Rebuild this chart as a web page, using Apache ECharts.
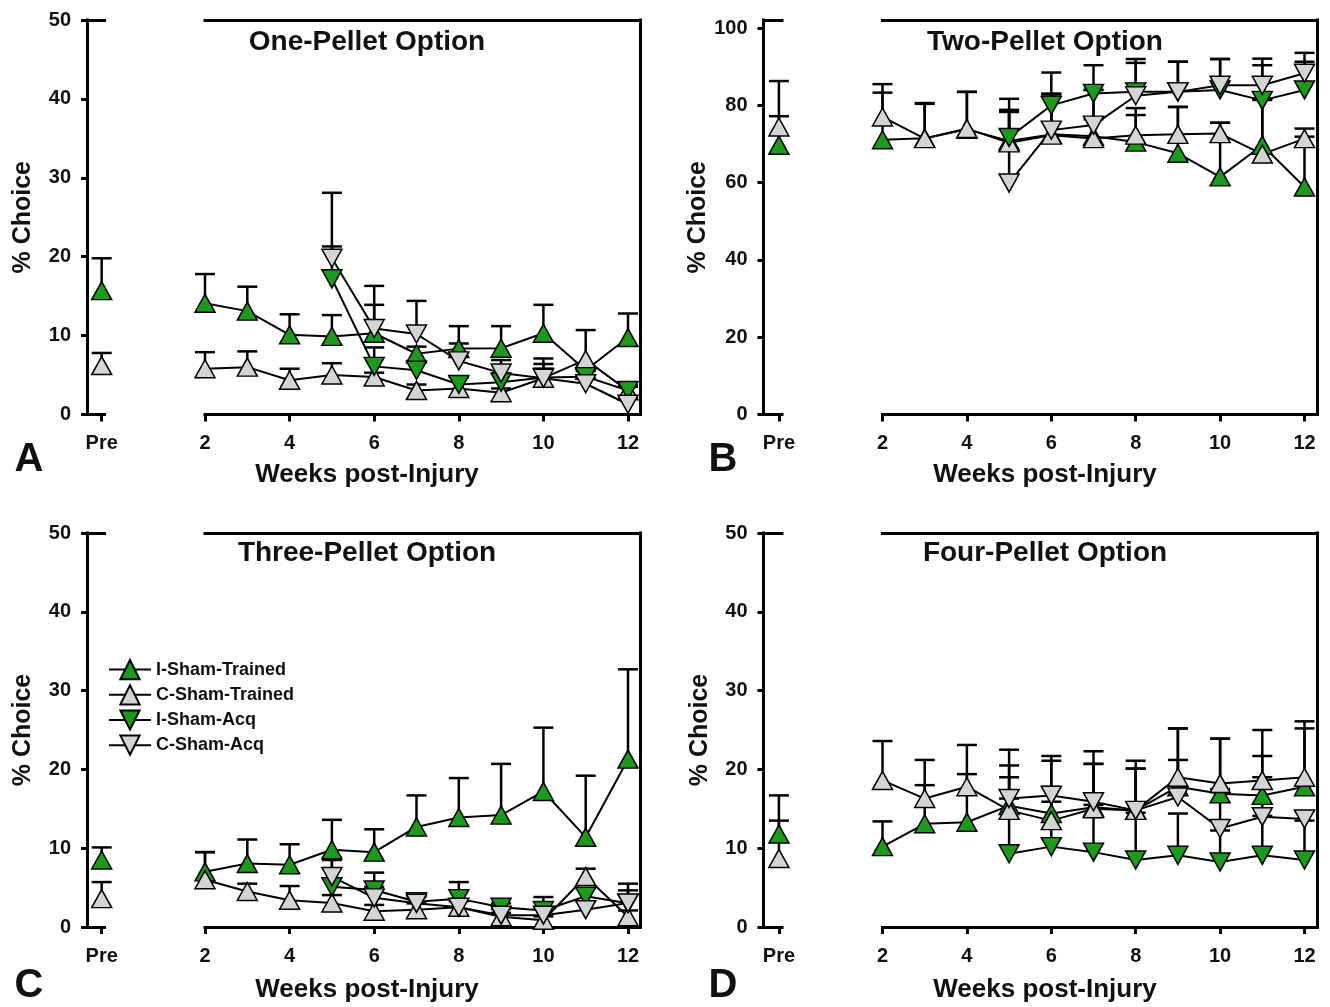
<!DOCTYPE html>
<html><head><meta charset="utf-8">
<script src="https://cdn.jsdelivr.net/npm/echarts@6/dist/echarts.min.js"></script>
<style>html,body{margin:0;padding:0;background:#fff}#c{width:1330px;height:1007px}</style>
</head><body><div id="c"></div>
<script>
// ---------------- DATA ----------------
const weeks = [2, 3, 4, 5, 6, 7, 8, 9, 10, 11, 12];
const acqWeeks = [5, 6, 7, 8, 9, 10, 11, 12];
const xTickWeeks = [2, 4, 6, 8, 10, 12];
const preLabel = 'Pre';
const yTicks50 = [0, 10, 20, 30, 40, 50];
const yTicks100 = [0, 20, 40, 60, 80, 100];
const seriesNames = ['I-Sham-Trained', 'C-Sham-Trained', 'I-Sham-Acq', 'C-Sham-Acq'];
const panelTitles = ['One-Pellet Option', 'Two-Pellet Option', 'Three-Pellet Option', 'Four-Pellet Option'];
const panelLetters = ['A', 'B', 'C', 'D'];
const xName = 'Weeks post-Injury';
const yName = '% Choice';

// Pre values: [I-Sham-Trained, C-Sham-Trained]
const onePre = [15.7, 6.2];
const onePreErr = [4.1, 1.6];
const oneIST = [14.1, 13.1, 10.1, 9.9, 10.3, 7.7, 8.35, 8.4, 10.3, 5.6, 9.75];
const oneISTErr = [3.7, 3.1, 2.6, 2.7, 3.6, 0.9, 2.85, 2.8, 3.6, 0.5, 3.05];
const oneCST = [5.8, 6.0, 4.35, 5.0, 4.75, 3.05, 3.3, 2.75, 4.6, 6.95, 3.0];
const oneCSTErr = [2.1, 2.0, 1.45, 1.5, 0.55, 0.75, 1.45, 0.55, 1.2, 3.75, 0.5];
const oneISA = [17.2, 6.1, 5.6, 3.8, 4.1, 4.7, 4.8, 3.05];
const oneISAErr = [4.1, 2.4, 1.2, 0.95, 1.1, 1.7, 0.9, 0.65];
const oneCSA = [19.8, 10.9, 10.2, 6.8, 5.25, 4.6, 3.9, 1.3];
const oneCSAErr = [8.3, 5.4, 4.2, 2.2, 1.65, 2.5, 1.6, 0.7];

const twoPre = [69.7, 74.4];
const twoPreErr = [7.5, 11.9];
const twoIST = [71.1, 71.5, 73.8, 70.8, 72.5, 72.0, 70.5, 67.6, 61.5, 69.7, 58.9];
const twoISTErr = [12.2, 9.1, 9.7, 7.5, 10.5, 12.0, 7.0, 12.0, 14.0, 12.0, 13.0];
const twoCST = [77.0, 71.4, 74.0, 70.3, 72.3, 71.4, 72.3, 72.5, 72.7, 67.4, 71.4];
const twoCSTErr = [8.5, 9.0, 9.5, 8.5, 10.5, 5.0, 7.0, 7.1, 2.8, 14.0, 2.6];
const twoISA = [71.7, 80.0, 83.1, 83.5, 83.5, 84.0, 81.3, 84.0];
const twoISAErr = [10.0, 8.5, 7.3, 8.5, 7.8, 8.0, 9.1, 7.3];
const twoCSA = [59.9, 73.6, 74.9, 82.5, 83.5, 85.2, 85.2, 88.3];
const twoCSAErr = [18.9, 9.4, 9.1, 8.5, 7.8, 6.8, 6.9, 5.3];

const threePre = [8.5, 3.6];
const threePreErr = [1.6, 2.1];
const threeIST = [7.0, 8.05, 7.9, 9.8, 9.5, 12.7, 13.9, 14.2, 17.2, 11.4, 21.3];
const threeISTErr = [2.5, 3.05, 2.6, 3.8, 2.9, 4.0, 5.0, 6.5, 8.1, 7.8, 11.4];
const threeCST = [6.0, 4.5, 3.4, 3.05, 2.0, 2.2, 2.5, 1.3, 0.85, 6.4, 1.3];
const threeCSTErr = [3.5, 1.0, 1.8, 1.0, 0.8, 0.8, 0.8, 0.5, 0.5, 1.0, 0.8];
const threeISA = [5.1, 4.7, 3.2, 3.6, 2.5, 2.1, 3.9, 3.0];
const threeISAErr = [3.7, 2.2, 0.8, 2.1, 0.5, 1.7, 1.0, 2.5];
const threeCSA = [6.4, 3.7, 3.0, 2.5, 1.5, 1.5, 2.2, 3.05];
const threeCSAErr = [2.1, 1.4, 0.8, 0.8, 0.8, 0.8, 1.0, 1.6];

const fourPre = [11.8, 8.7];
const fourPreErr = [4.9, 4.8];
const fourIST = [10.2, 13.1, 13.3, 15.4, 14.4, 15.2, 14.8, 17.8, 16.9, 16.7, 17.8];
const fourISTErr = [3.2, 4.9, 6.1, 5.1, 6.7, 5.5, 5.3, 7.4, 7.0, 5.0, 7.4];
const fourCST = [18.6, 16.3, 17.8, 14.8, 13.5, 15.0, 14.8, 19.0, 18.2, 18.6, 19.0];
const fourCSTErr = [5.0, 4.9, 5.3, 4.2, 4.3, 5.7, 5.3, 6.2, 5.7, 6.4, 7.1];
const fourISA = [9.3, 10.2, 9.5, 8.5, 9.1, 8.25, 9.1, 8.5];
const fourISAErr = [7.0, 5.7, 6.0, 6.0, 5.3, 4.0, 5.0, 5.0];
const fourCSA = [16.3, 16.7, 15.9, 14.8, 16.5, 12.5, 14.0, 13.7];
const fourCSAErr = [6.2, 5.0, 6.4, 6.3, 4.7, 5.0, 5.0, 1.0];

// ---------------- STYLE / LAYOUT ----------------
const FONT = "'Liberation Sans', Arial, Helvetica, sans-serif";
const INK = '#111';
const GREEN = '#1b9a1b', GRAY = '#d4d4d4';
const UP = 'path://M0,18 L10,0 L20,18 Z';
const DOWN = 'path://M0,0 L20,0 L10,18 Z';
const styles = [
  { sym: UP, color: GREEN }, { sym: UP, color: GRAY },
  { sym: DOWN, color: GREEN }, { sym: DOWN, color: GRAY }
];

const panels = [
  { pre: onePre, preErr: onePreErr, vals: [oneIST, oneCST, oneISA, oneCSA], errs: [oneISTErr, oneCSTErr, oneISAErr, oneCSAErr] },
  { pre: twoPre, preErr: twoPreErr, vals: [twoIST, twoCST, twoISA, twoCSA], errs: [twoISTErr, twoCSTErr, twoISAErr, twoCSAErr] },
  { pre: threePre, preErr: threePreErr, vals: [threeIST, threeCST, threeISA, threeCSA], errs: [threeISTErr, threeCSTErr, threeISAErr, threeCSAErr] },
  { pre: fourPre, preErr: fourPreErr, vals: [fourIST, fourCST, fourISA, fourCSA], errs: [fourISTErr, fourCSTErr, fourISAErr, fourCSAErr] }
];
const frames = [
  { yx: 87, top: 20, h: 394.5, preW: 17.6, mainL: 205, mainW: 435, pxw: 42.3, ymax: 50, yticks: yTicks50, cx: 367, titleY: 42, nameY: 475, letterX: 29, letterY: 460 },
  { yx: 763.5, top: 20, h: 394.5, preW: 18.5, mainL: 882.5, mainW: 435, pxw: 42.2, ymax: 102.1, yticks: yTicks100, cx: 1045, titleY: 42, nameY: 475, letterX: 723, letterY: 460 },
  { yx: 87, top: 533, h: 394, preW: 17.6, mainL: 205, mainW: 435, pxw: 42.3, ymax: 50, yticks: yTicks50, cx: 367, titleY: 553, nameY: 990, letterX: 29, letterY: 986 },
  { yx: 763.5, top: 533, h: 394, preW: 18.5, mainL: 882.5, mainW: 435, pxw: 42.2, ymax: 50, yticks: yTicks50, cx: 1045, titleY: 553, nameY: 990, letterX: 723, letterY: 986 }
];

const axisLine = { show: true, onZero: false, lineStyle: { color: '#000', width: 3, cap: 'square' } };
const labelStyle = { fontFamily: FONT, fontWeight: 'bold', fontSize: 20, color: INK };

function renderErr(params, api) {
  const x = api.value(0), y = api.value(1), e = api.value(2);
  const p0 = api.coord([x, y]);
  const p1 = api.coord([x, y + e]);
  const hw = 10;
  const st = { stroke: '#000', lineWidth: 2.5 };
  return {
    type: 'group', children: [
      { type: 'line', shape: { x1: p0[0], y1: p0[1], x2: p1[0], y2: p1[1] }, style: st },
      { type: 'line', shape: { x1: p1[0] - hw, y1: p1[1], x2: p1[0] + hw, y2: p1[1] }, style: st }
    ]
  };
}

const grid = [], xAxis = [], yAxis = [], series = [], graphic = [];

frames.forEach((f, p) => {
  const gPre = 2 * p, gMain = 2 * p + 1;
  grid.push({ left: f.yx, top: f.top, width: f.preW, height: f.h, containLabel: false, outerBoundsMode: 'none' });
  grid.push({ left: f.mainL, top: f.top, width: f.mainW, height: f.h, containLabel: false, outerBoundsMode: 'none' });

  xAxis.push({
    type: 'value', gridIndex: gPre, position: 'bottom', min: -1, max: 0.2,
    axisLine, splitLine: { show: false },
    axisTick: { show: true, customValues: [0], length: 7, lineStyle: { color: '#000', width: 3 } },
    axisLabel: { show: true, customValues: [0], formatter: () => preLabel, margin: 19, ...labelStyle }
  });
  xAxis.push({
    type: 'value', gridIndex: gPre, position: 'top', min: -1, max: 0.2,
    axisLine, splitLine: { show: false }, axisTick: { show: false }, axisLabel: { show: false }
  });
  const xmax = 2 + f.mainW / f.pxw;
  xAxis.push({
    type: 'value', gridIndex: gMain, position: 'bottom', min: 2, max: xmax,
    axisLine, splitLine: { show: false },
    axisTick: { show: true, customValues: xTickWeeks, length: 7, lineStyle: { color: '#000', width: 3 } },
    axisLabel: { show: true, customValues: xTickWeeks, margin: 19, ...labelStyle }
  });
  xAxis.push({
    type: 'value', gridIndex: gMain, position: 'top', min: 2, max: xmax,
    axisLine, splitLine: { show: false }, axisTick: { show: false }, axisLabel: { show: false }
  });

  yAxis.push({
    type: 'value', gridIndex: gPre, position: 'left', min: 0, max: f.ymax,
    axisLine, splitLine: { show: false },
    axisTick: { show: true, customValues: f.yticks, length: 6, lineStyle: { color: '#000', width: 3 } },
    axisLabel: { show: true, customValues: f.yticks, margin: 16, ...labelStyle },
    name: yName, nameLocation: 'middle', nameGap: 51,
    nameTextStyle: { fontFamily: FONT, fontWeight: 'bold', fontSize: 25, color: INK }
  });
  yAxis.push({
    type: 'value', gridIndex: gMain, position: 'right', min: 0, max: f.ymax,
    axisLine, splitLine: { show: false }, axisTick: { show: false }, axisLabel: { show: false }
  });

  const P = panels[p];
  for (let i = 0; i < 4; i++) {
    const xs = i < 2 ? weeks : acqWeeks;
    series.push({
      type: 'line', name: seriesNames[i], xAxisIndex: 2 * gMain, yAxisIndex: gMain,
      data: xs.map((w, k) => [w, P.vals[i][k]]),
      symbol: styles[i].sym, symbolSize: [20, 18], showSymbol: true,
      itemStyle: { color: styles[i].color, borderColor: '#000', borderWidth: 1.5 },
      lineStyle: { color: '#000', width: 2 },
      z: 3, animation: false, silent: true, emphasis: { disabled: true }
    });
  }
  for (let i = 0; i < 2; i++) {
    series.push({
      type: 'line', name: seriesNames[i], xAxisIndex: 2 * gPre, yAxisIndex: gPre,
      data: [[0, P.pre[i]]],
      symbol: styles[i].sym, symbolSize: [20, 18],
      itemStyle: { color: styles[i].color, borderColor: '#000', borderWidth: 1.5 },
      lineStyle: { color: '#000', width: 2 },
      z: 3, animation: false, silent: true, emphasis: { disabled: true }
    });
    series.push({
      type: 'custom', name: 'err-pre-' + p + '-' + i, xAxisIndex: 2 * gPre, yAxisIndex: gPre,
      data: [[0, P.pre[i], P.preErr[i]]], encode: { x: 0, y: 1 }, renderItem: renderErr,
      z: 2, animation: false, silent: true, clip: false
    });
  }
  for (let i = 0; i < 4; i++) {
    const xs = i < 2 ? weeks : acqWeeks;
    series.push({
      type: 'custom', name: 'err-' + p + '-' + i, xAxisIndex: 2 * gMain, yAxisIndex: gMain,
      data: xs.map((w, k) => [w, P.vals[i][k], P.errs[i][k]]), encode: { x: 0, y: 1 },
      renderItem: renderErr, z: 2, animation: false, silent: true, clip: false
    });
  }

  graphic.push({ type: 'text', x: f.cx, y: f.titleY, style: { text: panelTitles[p], font: "bold 28px " + FONT, fill: INK, textAlign: 'center', textVerticalAlign: 'middle', align: 'center', verticalAlign: 'middle' } });
  graphic.push({ type: 'text', x: f.cx, y: f.nameY, style: { text: xName, font: "bold 26px " + FONT, fill: INK, textAlign: 'center', textVerticalAlign: 'middle', align: 'center', verticalAlign: 'middle' } });
  graphic.push({ type: 'text', x: f.letterX, y: f.letterY, style: { text: panelLetters[p], font: "bold 40px " + FONT, fill: INK, textAlign: 'center', textVerticalAlign: 'middle', align: 'center', verticalAlign: 'middle' } });
});

const chart = echarts.init(document.getElementById('c'), null, { renderer: 'canvas' });
chart.setOption({
  backgroundColor: '#fff',
  animation: false,
  grid, xAxis, yAxis, series, graphic,
  legend: {
    show: true, orient: 'vertical', left: 103, top: 654,
    itemWidth: 42, itemHeight: 24, itemGap: 4,
    data: seriesNames, selectedMode: false,
    textStyle: { fontFamily: FONT, fontWeight: 'bold', fontSize: 18, color: INK }
  }
});
</script></body></html>
